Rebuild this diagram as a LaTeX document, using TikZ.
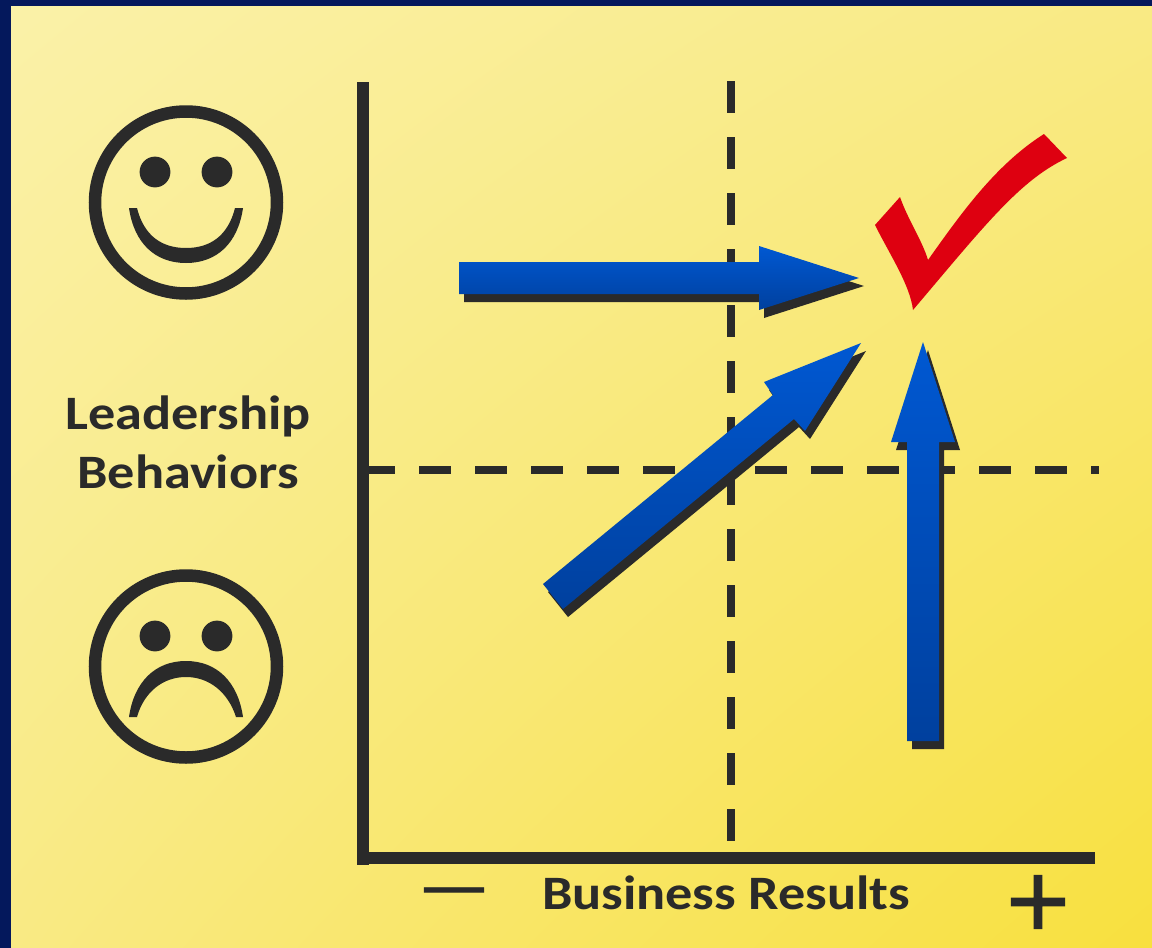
\documentclass[tikz,border=0pt]{standalone}
\usepackage{fontspec}
\usetikzlibrary{shadings}
\setmainfont[FakeStretch=1.13]{Carlito}
\newfontfamily\plusfont[FakeBold=2.5]{DejaVu Sans}
\newfontfamily\minusfont[FakeStretch=1.13,FakeBold=1]{Carlito}
\definecolor{navy}{HTML}{04185C}
\definecolor{ink}{HTML}{2A2A2A}
\definecolor{paleyellow}{HTML}{FAF1A8}
\definecolor{midyellow}{HTML}{F9EA84}
\definecolor{deepyellow}{HTML}{F8E03E}
\definecolor{lightblue}{HTML}{0058D2}
\definecolor{darkblue}{HTML}{00409E}
\definecolor{checkred}{HTML}{DE0010}
\tikzset{
	axis/.style = {line width=12pt, ink},
	guide/.style = {line width=8pt, ink, dash pattern=on 32pt off 24pt},
	bluefill/.style = {top color=lightblue, bottom color=darkblue, draw=none},
	blockshadow/.style = {fill=ink, draw=none, shift={(5pt,-8pt)}},
	caption/.style = {font=\bfseries\fontsize{48}{59}\selectfont, text=ink, align=center, inner sep=0pt},
	face/.style = {draw=ink, line width=12.5pt, circle, minimum size=182pt, inner sep=0pt, outer sep=0pt},
	eye/.style = {fill=ink, draw=none},
}
\begin{document}
\begin{tikzpicture}[x=1pt, y=-1pt]
	\useasboundingbox (0,0) rectangle (1152,948);
	% background
	\fill[navy] (0,0) rectangle (1152,948);
	\shade[upper left=paleyellow, upper right=midyellow, lower left=midyellow, lower right=deepyellow] (11,6) rectangle (1152,948);
	% guides
	\coordinate (vtop) at (731,81);
	\coordinate (vbottom) at (731,841);
	\coordinate (hleft) at (363,470);
	\coordinate (hright) at (1099,470);
	\draw[guide] (vtop) -- (vbottom);
	\draw[guide] (hleft) -- (hright);
	% axes
	\coordinate (origin) at (363,858);
	\coordinate (ytip) at (363,82);
	\coordinate (xtip) at (1095,858);
	\coordinate (ybase) at (363,865);
	\draw[axis] (ytip) -- (ybase);
	\draw[axis] (origin) -- (xtip);
	% faces
	\node[face] (happy) at (186,202.5) {};
	\fill[eye] (155,172) circle (15.4);
	\fill[eye] (217,172) circle (15.4);
	\fill[ink] (129,208) -- (137,208) .. controls (144,236) and (162,248) .. (186,248) .. controls (210,248) and (228,236) .. (235,208) -- (243,208) .. controls (238,243) and (217,263) .. (186,263) .. controls (155,263) and (134,243) .. (129,208) -- cycle;
	\node[face] (sad) at (186,666.5) {};
	\fill[eye] (155,636) circle (15.4);
	\fill[eye] (217,636) circle (15.4);
	\fill[ink] (129,717) -- (137,717) .. controls (144,692) and (163,677) .. (186,677) .. controls (209,677) and (228,692) .. (236,717) -- (243,717) .. controls (238,682) and (217,661) .. (186,661) .. controls (155,661) and (134,682) .. (129,717) -- cycle;
	% labels
	\node[caption] (behaviors) at (188,442) {Leadership\\Behaviors};
	\node[caption] (results) at (726,893) {Business Results};
	\node[caption, font=\minusfont\fontsize{72}{72}\selectfont, anchor=base] (minus) at (454,910) {—};
	\node[caption, font=\plusfont\fontsize{83}{83}\selectfont, anchor=base] (plus) at (1038,928) {+};
	% arrows
	\fill[blockshadow] (459,262) -- (759,262) -- (759,246) -- (859,278) -- (759,310) -- (759,294) -- (459,294) -- cycle;
	\shade[bluefill] (459,262) -- (759,262) -- (759,246) -- (859,278) -- (759,310) -- (759,294) -- (459,294) -- cycle;
	\fill[blockshadow] (543,584) -- (773,395) -- (764,382) -- (861,343) -- (805,431) -- (794,419) -- (563,609) -- cycle;
	\shade[bluefill] (543,584) -- (773,395) -- (764,382) -- (861,343) -- (805,431) -- (794,419) -- (563,609) -- cycle;
	\fill[blockshadow] (907,741) -- (907,442) -- (891,442) -- (923,342) -- (955,442) -- (939,442) -- (939,741) -- cycle;
	\shade[bluefill] (907,741) -- (907,442) -- (891,442) -- (923,342) -- (955,442) -- (939,442) -- (939,741) -- cycle;
	% check mark
	\fill[checkred] (875,225) -- (900,197) .. controls (908,220) and (922,240) .. (928,260) .. controls (960,215) and (995,165) .. (1044,134) -- (1067,158) .. controls (1020,180) and (985,225) .. (913,310) .. controls (910,285) and (890,255) .. (875,225) -- cycle;
\end{tikzpicture}
\end{document}
